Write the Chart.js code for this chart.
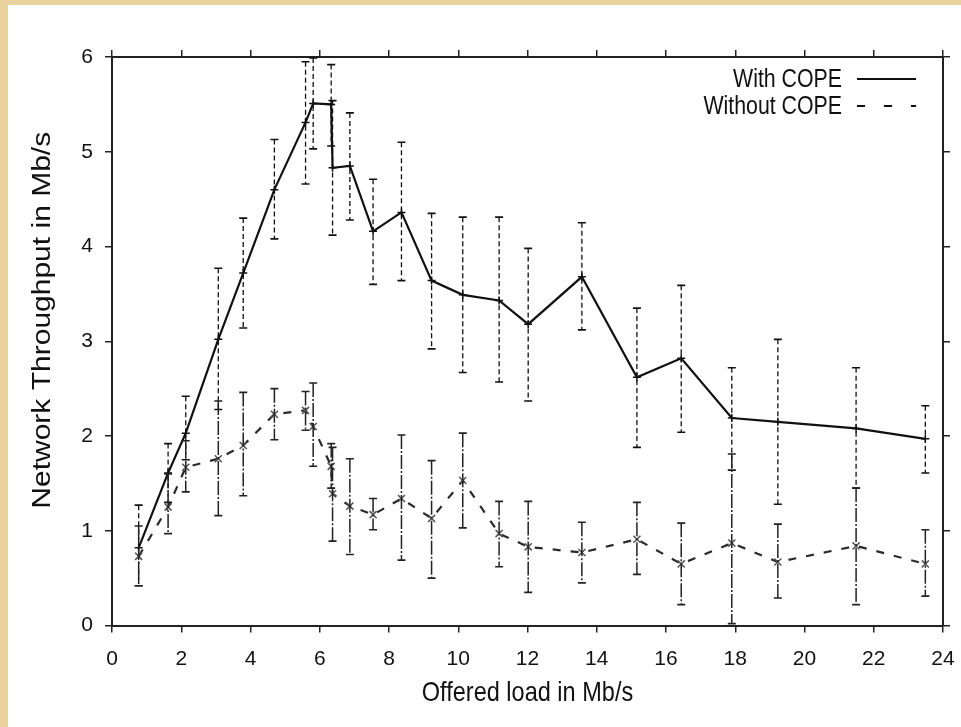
<!DOCTYPE html>
<html>
<head>
<meta charset="utf-8">
<script src="https://cdn.jsdelivr.net/npm/chart.js@4.4.1/dist/chart.umd.min.js"></script>
<style>
  html, body { margin: 0; padding: 0; }
  body { width: 961px; height: 727px; background: #e9d29b; overflow: hidden; }
  #box { position: absolute; left: 8px; top: 5px; width: 953px; height: 722px; background: #fff; }
</style>
</head>
<body>
<div id="box"><canvas id="mycanvas"></canvas></div>
<script>
// offered load (Mb/s), same x for both runs
var load = [0.77, 1.62, 2.13, 3.07, 3.79, 4.69, 5.59, 5.81, 6.33, 6.37, 6.87, 7.54,
            8.36, 9.23, 10.13, 11.18, 12.02, 13.57, 15.16, 16.44, 17.9, 19.23, 21.49, 23.49];

// With COPE: throughput + error bar ends
var withCope   = [0.82, 1.61, 2.03, 3.02, 3.72, 4.60, 5.31, 5.51, 5.50, 4.83, 4.85, 4.16,
                  4.36, 3.64, 3.49, 3.43, 3.18, 3.68, 2.62, 2.82, 2.19, 2.15, 2.08, 1.97];
var withLow    = [0.42, 1.30, 1.75, 2.28, 3.14, 4.08, 4.66, 5.03, 5.06, 4.12, 4.28, 3.60,
                  3.64, 2.92, 2.67, 2.57, 2.37, 3.12, 1.88, 2.04, 1.64, 1.28, 1.45, 1.61];
var withHigh   = [1.27, 1.92, 2.42, 3.77, 4.30, 5.13, 5.95, 5.99, 5.92, 5.54, 5.41, 4.71,
                  5.10, 4.35, 4.31, 4.31, 3.98, 4.25, 3.35, 3.59, 2.72, 3.02, 2.72, 2.32];

// Without COPE
var withoutCope = [0.73, 1.25, 1.67, 1.76, 1.90, 2.23, 2.27, 2.10, 1.68, 1.39, 1.26, 1.17,
                   1.34, 1.13, 1.53, 0.97, 0.83, 0.77, 0.91, 0.65, 0.87, 0.67, 0.84, 0.65];
var withoutLow  = [0.42, 0.97, 1.41, 1.16, 1.37, 1.96, 2.06, 1.68, 1.45, 0.89, 0.75, 1.01,
                   0.69, 0.50, 1.03, 0.62, 0.35, 0.45, 0.54, 0.22, 0.02, 0.29, 0.22, 0.31];
var withoutHigh = [1.05, 1.60, 1.95, 2.37, 2.46, 2.50, 2.47, 2.56, 1.92, 1.88, 1.76, 1.34,
                   2.01, 1.74, 2.03, 1.31, 1.31, 1.09, 1.30, 1.08, 1.81, 1.07, 1.45, 1.01];

var xTicks = [0, 2, 4, 6, 8, 10, 12, 14, 16, 18, 20, 22, 24];
var yTicks = [0, 1, 2, 3, 4, 5, 6];
var seriesNames = ["With COPE", "Without COPE"];
var xTitle = "Offered load in Mb/s";
var yTitle = "Network Throughput in Mb/s";

function pts(ys) {
	var out = [];
	for (var i in load) out.push({x: load[i], y: ys[i]});
	return out;
}

var errs = [[withLow, withHigh], [withoutLow, withoutHigh]];

var errorBars = {
	id: 'errorBars',
	afterDatasetsDraw: function(chart) {
		var ctx = chart.ctx, xs = chart.scales.x, ys = chart.scales.y;
		ctx.save();
		for (var d = 0; d < 2; d++) {
			ctx.strokeStyle = d == 0 ? '#111' : '#222';
			for (var i = 0; i < load.length; i++) {
				var px = xs.getPixelForValue(load[i]);
				var lo = ys.getPixelForValue(errs[d][0][i]);
				var hi = ys.getPixelForValue(errs[d][1][i]);
				ctx.lineWidth = d == 0 ? 1.3 : 1.5;
				ctx.setLineDash(d == 0 ? [5, 3] : [14, 2, 2, 2]);
				ctx.beginPath(); ctx.moveTo(px, hi); ctx.lineTo(px, lo); ctx.stroke();
				ctx.setLineDash([]);
				ctx.lineWidth = 1.6;
				ctx.beginPath();
				ctx.moveTo(px - 4, hi); ctx.lineTo(px + 4, hi);
				ctx.moveTo(px - 4, lo); ctx.lineTo(px + 4, lo);
				ctx.stroke();
			}
		}
		ctx.restore();
	}
};

// the source figure is squeezed sideways, so text is drawn narrowed
function narrowText(ctx, txt, x, y, size, sx, align) {
	ctx.save();
	ctx.font = size + 'px "Liberation Sans", Arial, sans-serif';
	ctx.textAlign = align;
	ctx.textBaseline = 'middle';
	ctx.translate(x, y);
	ctx.scale(sx, 1);
	ctx.fillText(txt, 0, 0);
	ctx.restore();
}

// legend inside the plot, text left of the line sample; axis titles
var keyAndTitle = {
	id: 'keyAndTitle',
	afterDraw: function(chart) {
		var ctx = chart.ctx, a = chart.chartArea;
		ctx.save();
		ctx.fillStyle = '#111';
		var rows = [a.top + 23, a.top + 50];
		for (var k = 0; k < 2; k++) {
			narrowText(ctx, seriesNames[k], a.right - 101, rows[k], 26, 0.82, 'right');
			ctx.strokeStyle = '#111';
			ctx.lineWidth = 2;
			ctx.setLineDash(k == 0 ? [] : [8, 19]);
			ctx.beginPath();
			ctx.moveTo(a.right - 86, rows[k] - 1);
			ctx.lineTo(a.right - 27, rows[k] - 1);
			ctx.stroke();
		}
		ctx.setLineDash([]);
		narrowText(ctx, xTitle, (a.left + a.right) / 2, a.bottom + 68, 28, 0.84, 'center');
		// y title, rotated: stretched along its length
		ctx.translate(35, a.top + (a.bottom - a.top) / 2 - 21);
		ctx.rotate(-Math.PI / 2);
		ctx.scale(1.2, 1);
		ctx.textAlign = 'center';
		ctx.textBaseline = 'middle';
		ctx.font = '25px "Liberation Sans", Arial, sans-serif';
		ctx.fillText(yTitle, 0, 0);
		ctx.restore();
	}
};

function noPad(s) { s.paddingLeft = 0; s.paddingRight = 0; s.paddingTop = 0; s.paddingBottom = 0; }

var tickFont = {family: '"Liberation Sans", Arial, sans-serif', size: 21};
var edge = {display: true, color: '#222', width: 2};
var tickGrid = {drawOnChartArea: false, drawTicks: true, tickLength: 7, tickColor: '#222', lineWidth: 1.5};

var ctx = document.getElementById('mycanvas');

var LineGraph = new Chart(ctx, {
	type: 'line',
	data: {
		datasets: [
			{
				label: seriesNames[0],
				data: pts(withCope),
				borderColor: '#111',
				borderWidth: 2.2,
				pointStyle: 'cross',
				pointRadius: 4,
				pointBorderColor: '#111',
				pointBorderWidth: 1.5,
				fill: false,
				tension: 0
			},
			{
				label: seriesNames[1],
				data: pts(withoutCope),
				borderColor: '#2a2a2a',
				borderWidth: 2.2,
				borderDash: [8, 10],
				pointStyle: 'crossRot',
				pointRadius: 5,
				pointBorderColor: '#555',
				pointBorderWidth: 1.5,
				fill: false,
				tension: 0
			}
		]
	},
	options: {
		responsive: true,
		maintainAspectRatio: false,
		animation: false,
		layout: {padding: {top: 52, right: 18, left: 0, bottom: 0}},
		plugins: {legend: {display: false}, tooltip: {enabled: false}},
		scales: {
			x: {
				type: 'linear', position: 'bottom', min: 0, max: 24,
				afterBuildTicks: function(s) { s.ticks = xTicks.map(function(v) { return {value: v}; }); },
				afterFit: function(s) { s.height = 101.5; noPad(s); },
				border: edge, grid: tickGrid,
				ticks: {color: '#111', font: tickFont, padding: 14, maxRotation: 0}
			},
			x2: {
				type: 'linear', position: 'top', min: 0, max: 24,
				afterBuildTicks: function(s) { s.ticks = xTicks.map(function(v) { return {value: v}; }); },
				afterFit: function(s) { s.height = 0; noPad(s); },
				border: edge, grid: tickGrid, ticks: {display: false}
			},
			y: {
				type: 'linear', position: 'left', min: 0, max: 6,
				afterBuildTicks: function(s) { s.ticks = yTicks.map(function(v) { return {value: v}; }); },
				afterFit: function(s) { s.width = 104; noPad(s); },
				border: edge, grid: tickGrid,
				ticks: {color: '#111', font: tickFont, padding: 12}
			},
			y2: {
				type: 'linear', position: 'right', min: 0, max: 6,
				afterBuildTicks: function(s) { s.ticks = yTicks.map(function(v) { return {value: v}; }); },
				afterFit: function(s) { s.width = 0; noPad(s); },
				border: edge, grid: tickGrid, ticks: {display: false}
			}
		}
	},
	plugins: [errorBars, keyAndTitle]
});
</script>
</body>
</html>
